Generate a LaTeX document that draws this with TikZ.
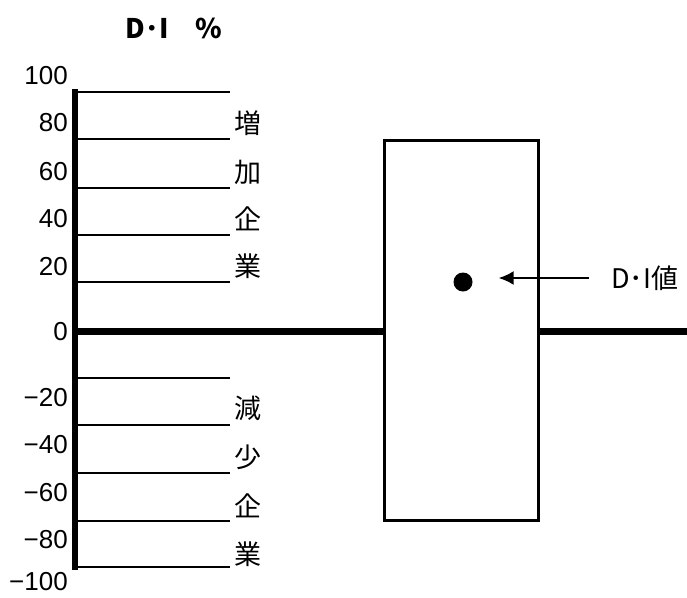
\documentclass[tikz,border=0pt]{standalone}
\usepackage{fontspec}
\setmainfont{Liberation Sans}
\newfontfamily\jp{Noto Sans CJK JP}
\usetikzlibrary{positioning}
\usetikzlibrary{arrows.meta}

\begin{document}
\begin{tikzpicture}[x=1pt,y=-1pt,
        scalelabel/.style={anchor=east,inner sep=0pt,font=\fontsize{26}{26}\selectfont},
        kanji/.style={inner sep=0pt,font=\jp\fontsize{27}{27}\selectfont},
        gridline/.style={line width=2.8pt},
        thick line/.style={line width=7pt}]
      \useasboundingbox (0,0) rectangle (687,597);

      % vertical axis and the zero line
      \coordinate (axistop) at (75,89);
      \coordinate (axisbot) at (75,570);
      \coordinate (zero)    at (75,331);
      \coordinate (zeroend) at (687,331);
      \draw[line width=6pt] (axistop) -- (axisbot);

      \foreach \y in {92,139,188,235,282,378,425,473,521,567}
        \draw[gridline] (75,\y) -- (230,\y);

      \foreach \v/\y in {100/76,80/123,60/172,40/219,20/267,0/332,
                         −20/398,−40/445,−60/493,−80/540,−100/582}
        \node[scalelabel] at (68,\y) {\v};

      \foreach \k/\y in {増/123,加/172,企/219,業/266,減/408,少/457,企/506,業/554}
        \node[kanji] at (248,\y) {\k};

      \node[font=\jp\bfseries\fontsize{27}{27}\selectfont,inner sep=0pt] (title) at (174,28) {D･I　\%};

      % box with the D-I value
      \node[draw,line width=3pt,minimum width=154pt,minimum height=380pt,inner sep=0pt] (box) at (461.5,330) {};
      \node[circle,fill,minimum size=19pt,inner sep=0pt] (dot) at (463,282) {};
      \node[kanji,anchor=west] (dival) at (611,278) {D･I値};

      \draw[thick line] (zero) -- (zero -| box.west);
      \draw[thick line] (zero -| box.east) -- (zeroend);
      \draw[-{Latex[length=15pt,width=14pt]},line width=1.8pt,shorten <=22pt,shorten >=26pt]
            (dival.west) -- (dival.west -| dot.east);
\end{tikzpicture}
\end{document}
